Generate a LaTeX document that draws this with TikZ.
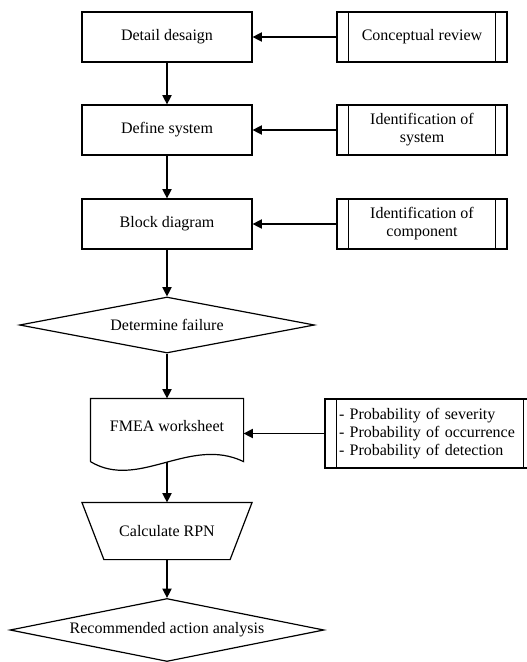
\documentclass[tikz,border=0pt]{standalone}
\usepackage{fontspec}
\setmainfont{Liberation Serif}
\usepackage{tikz}
\usetikzlibrary{arrows.meta,shapes.geometric}

\begin{document}
\begin{tikzpicture}[x=0.75pt,y=-0.75pt,line width=0.9pt,
    font=\fontsize{12}{13.5}\selectfont,
    >={Triangle[length=7pt,width=7pt]},
    box/.style={draw,minimum width=127.5pt,minimum height=37.5pt,inner sep=0pt,align=center},
    sidebar/.style={path picture={
      \draw[line width=0.9pt] ([xshift=8.5pt]path picture bounding box.north west) -- ([xshift=8.5pt]path picture bounding box.south west);
      \draw[line width=0.9pt] ([xshift=-8.5pt]path picture bounding box.north east) -- ([xshift=-8.5pt]path picture bounding box.south east);}},
    subbox/.style={box,sidebar},
    decision/.style={draw,diamond,aspect=5.3,inner sep=0pt}]
  \useasboundingbox (0,0) rectangle (527,662);
  % main column
  \node[box] (detail) at (167,37) {Detail desaign};
  \node[box] (define) at (167,130) {Define system};
  \node[box] (block) at (167,224) {Block diagram};
  \node[decision,minimum width=221.25pt,minimum height=42pt] (fail) at (167,325) {Determine failure};
  \node[minimum width=114pt,minimum height=40.5pt,inner sep=0pt] (fmea) at (167,426) {FMEA worksheet};
  \draw ([yshift=-6pt]fmea.south west) -- (fmea.north west) -- (fmea.north east) -- ([yshift=-6pt]fmea.south east)
     .. controls +(-54,-26) and +(48,29) .. ([yshift=-6pt]fmea.south west);
  \node[minimum width=126.75pt,minimum height=42pt,inner sep=0pt] (rpn) at (167,531) {Calculate RPN};
  \draw (rpn.north west) -- (rpn.north east) -- ([xshift=-16.5pt]rpn.south east) -- ([xshift=16.5pt]rpn.south west) -- cycle;
  \node[decision,minimum width=235.5pt,minimum height=47.25pt] (rec) at (167,630) {Recommended action analysis};
  % inputs on the right
  \node[subbox] (concept) at (422,37) {Conceptual review};
  \node[subbox] (identsys) at (422,130) {Identification of\\system};
  \node[subbox] (identcomp) at (422,224) {Identification of\\component};
  \node[draw,sidebar,minimum width=157.5pt,minimum height=51.75pt,inner sep=0pt,
        text width=136.5pt,align=left] (prob) at (430,433.5)
       {- Probability of severity\\- Probability of occurrence\\- Probability of detection};
  % connectors
  \draw[->] (concept) -- (detail);
  \draw[->] (identsys) -- (define);
  \draw[->] (identcomp) -- (block);
  \draw[->] (detail) -- (define);
  \draw[->] (define) -- (block);
  \draw[->] (block) -- (fail);
  \draw[->] (fail) -- (fmea);
  \draw[->] (prob.west) -- (prob.west -| fmea.east);
  \draw[->] ([yshift=-6pt]fmea.south) -- (rpn);
  \draw[->] (rpn) -- (rec);
\end{tikzpicture}
\end{document}
